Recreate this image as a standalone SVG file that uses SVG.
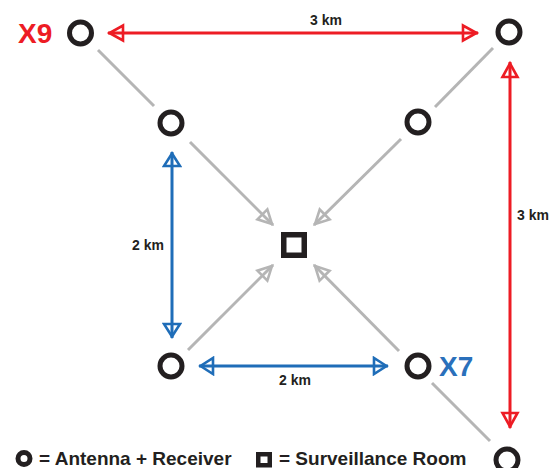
<svg xmlns="http://www.w3.org/2000/svg" width="560" height="468" viewBox="0 0 560 468">
<style>
.ant{fill:none;stroke:#231f20;stroke-width:5}
.room{fill:none;stroke:#231f20;stroke-width:5.5}
.gray{stroke:#b5b5b5;stroke-width:3;fill:none}
.red{stroke:#ed1c24;stroke-width:3;fill:none}
.blue{stroke:#1f6db8;stroke-width:3;fill:none}
.dist{font-family:"Liberation Sans",Arial,sans-serif;font-weight:bold;font-size:14px;fill:#231f20}
.big{font-family:"Liberation Sans",Arial,sans-serif;font-weight:bold;font-size:28px}
.leg{font-family:"Liberation Sans",Arial,sans-serif;font-weight:bold;font-size:19px;fill:#231f20}
</style>
<defs>
<marker id="ar" viewBox="-18 -10 20 20" markerWidth="20" markerHeight="20" refX="0" refY="0" markerUnits="userSpaceOnUse" orient="auto-start-reverse">
<path d="M-1.5,0 L-15,-7.5 L-15,7.5 Z" fill="none" stroke="#ed1c24" stroke-width="2.6"/>
</marker>
<marker id="ab" viewBox="-18 -10 20 20" markerWidth="20" markerHeight="20" refX="0" refY="0" markerUnits="userSpaceOnUse" orient="auto-start-reverse">
<path d="M-1.5,0 L-14,-8 L-14,8 Z" fill="none" stroke="#1f6db8" stroke-width="2.6"/>
</marker>
<marker id="ag" viewBox="-18 -10 20 20" markerWidth="20" markerHeight="20" refX="0" refY="0" markerUnits="userSpaceOnUse" orient="auto">
<path d="M-1.5,0 L-15,-7 L-15,7 Z" fill="none" stroke="#b5b5b5" stroke-width="2.6"/>
</marker>
</defs>

<g id="connectors">
<line class="gray" x1="98" y1="50" x2="154" y2="106"/>
<line class="gray" x1="493" y1="48" x2="435" y2="107"/>
<line class="gray" x1="432" y1="383" x2="490" y2="441"/>
<line class="gray" x1="190" y1="142" x2="273" y2="225" marker-end="url(#ag)"/>
<line class="gray" x1="401" y1="139" x2="314" y2="225" marker-end="url(#ag)"/>
<line class="gray" x1="188" y1="350" x2="273" y2="265" marker-end="url(#ag)"/>
<line class="gray" x1="399" y1="351" x2="314" y2="265" marker-end="url(#ag)"/>
<line class="red" x1="108" y1="33" x2="478" y2="33" marker-start="url(#ar)" marker-end="url(#ar)"/>
<line class="red" x1="510" y1="62" x2="510" y2="428" marker-start="url(#ar)" marker-end="url(#ar)"/>
<line class="blue" x1="172" y1="152" x2="172" y2="338" marker-start="url(#ab)" marker-end="url(#ab)"/>
<line class="blue" x1="199" y1="366" x2="388" y2="366" marker-start="url(#ab)" marker-end="url(#ab)"/>
<text class="dist" x="326" y="25" text-anchor="middle">3 km</text>
<text class="dist" x="517" y="220">3 km</text>
<text class="dist" x="164" y="250" text-anchor="end">2 km</text>
<text class="dist" x="295" y="385" text-anchor="middle">2 km</text>
</g>

<g id="x9"><circle class="ant" cx="80.5" cy="33" r="11"/><text class="big" x="18" y="43" fill="#ed1c24">X9</text></g>
<g id="outer-tr"><circle class="ant" cx="509" cy="32" r="11"/></g>
<g id="inner-tl"><circle class="ant" cx="171" cy="123" r="11"/></g>
<g id="inner-tr"><circle class="ant" cx="418" cy="122" r="11"/></g>
<g id="inner-bl"><circle class="ant" cx="171" cy="366" r="11"/></g>
<g id="x7"><circle class="ant" cx="418" cy="366" r="11"/><text class="big" x="439" y="376" fill="#2a70bb">X7</text></g>
<g id="outer-br"><circle class="ant" cx="507" cy="460" r="11"/></g>
<g id="room"><rect class="room" x="283.75" y="234.75" width="20.5" height="20.5"/></g>

<g id="legend">
<circle cx="24" cy="458.5" r="6" fill="none" stroke="#231f20" stroke-width="5"/>
<text class="leg" x="39" y="465">= Antenna + Receiver</text>
<rect x="258.25" y="454.25" width="11.5" height="11" fill="none" stroke="#231f20" stroke-width="4.5"/>
<text class="leg" x="279" y="465">= Surveillance Room</text>
</g>
</svg>
